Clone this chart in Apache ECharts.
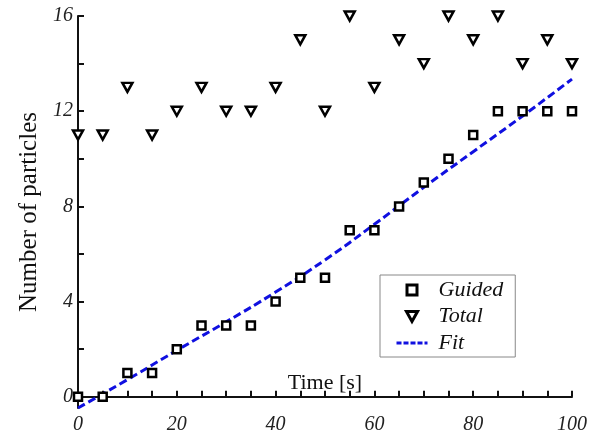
<!DOCTYPE html>
<html>
<head>
<meta charset="utf-8">
<script src="https://cdn.jsdelivr.net/npm/echarts@6/dist/echarts.min.js"></script>
<style>html,body{margin:0;padding:0;background:#fff;}#c{width:600px;height:437px;}</style>
</head>
<body>
<div id="c"></div>
<script>
const times = [0,5,10,15,20,25,30,35,40,45,50,55,60,65,70,75,80,85,90,95,100];
const guided = [0,0,1,1,2,3,3,3,4,5,5,7,7,8,9,10,11,12,12,12,12];
const total = [11,11,13,11,12,13,12,12,13,15,12,16,13,15,14,16,15,16,14,15,14];
const fitTimes = [0,10,20,30,40,50,60,70,80,90,100];
const fitValues = [-0.47,0.72,1.95,3.15,4.4,5.75,7.25,8.8,10.3,11.8,13.35];
const xLabels = [0,20,40,60,80,100];
const xTicks = [0,5,10,15,20,25,30,35,40,45,50,55,60,65,70,75,80,85,90,95,100];
const yLabels = [0,4,8,12,16];
const yTicks = [0,2,4,6,8,10,12,14,16];

const triPath = 'path://M0,0L10,0L5,9Z';
const sqPath = 'path://M0,0L10,0L10,10L0,10Z';
const serif = 'Liberation Serif';

const chart = echarts.init(document.getElementById('c'));
chart.setOption({
  animation: false,
  backgroundColor: '#fff',
  grid: { left: 78, right: 28, top: 16, bottom: 29, containLabel: false, outerBoundsMode: 'none' },
  legend: {
    orient: 'vertical',
    left: 380, top: 275,
    padding: [4, 12, 3, 15],
    itemWidth: 31, itemHeight: 10, itemGap: 4.5,
    symbolKeepAspect: true,
    borderColor: '#888', borderWidth: 1, backgroundColor: '#fff',
    textStyle: { fontFamily: serif, fontStyle: 'italic', fontSize: 22, color: '#111', lineHeight: 22, padding: [0,0,0,6] },
    data: [
      { name: 'Guided', icon: sqPath, itemStyle: { borderWidth: 3 } },
      { name: 'Total', icon: triPath, itemStyle: { borderWidth: 3 } },
      { name: 'Fit', itemStyle: { opacity: 0 }, lineStyle: { type: [5, 2], width: 3, opacity: 1 } }
    ]
  },
  xAxis: {
    type: 'value', min: 0, max: 100,
    name: 'Time [s]', nameLocation: 'middle', nameGap: -36, nameMoveOverlap: false,
    nameTextStyle: { fontFamily: serif, fontSize: 22, color: '#111' },
    axisLine: { lineStyle: { color: '#111', width: 2 } },
    axisTick: { inside: true, length: 6, lineStyle: { color: '#111', width: 2 }, customValues: xTicks },
    axisLabel: { fontFamily: serif, fontStyle: 'italic', fontSize: 20, color: '#222', margin: 7, customValues: xLabels },
    splitLine: { show: false }
  },
  yAxis: {
    type: 'value', min: -0.47, max: 16,
    name: 'Number of particles', nameLocation: 'middle', nameGap: 36, nameMoveOverlap: false,
    nameTextStyle: { fontFamily: serif, fontSize: 25, color: '#111' },
    axisLine: { show: true, lineStyle: { color: '#111', width: 2 } },
    axisTick: { show: true, inside: true, length: 6, lineStyle: { color: '#111', width: 2 }, customValues: yTicks },
    axisLabel: { fontFamily: serif, fontStyle: 'italic', fontSize: 20, color: '#222', margin: 5, customValues: yLabels },
    splitLine: { show: false }
  },
  series: [
    {
      name: 'Fit', type: 'line', z: 1,
      data: fitTimes.map((t, i) => [t, fitValues[i]]),
      smooth: true, symbol: 'none',
      lineStyle: { color: '#1010e0', width: 3, type: [8, 4] },
      itemStyle: { color: '#1010e0' }
    },
    {
      name: 'Guided', type: 'scatter', z: 3, clip: false,
      data: times.map((t, i) => [t, guided[i]]),
      symbol: 'rect', symbolSize: 8,
      itemStyle: { color: '#fff', borderColor: '#000', borderWidth: 2.5, opacity: 1 }
    },
    {
      name: 'Total', type: 'scatter', z: 3, clip: false,
      data: times.map((t, i) => [t, total[i]]),
      symbol: triPath, symbolSize: [10, 9],
      itemStyle: { color: '#fff', borderColor: '#000', borderWidth: 2.5, opacity: 1 }
    }
  ]
});
</script>
</body>
</html>
